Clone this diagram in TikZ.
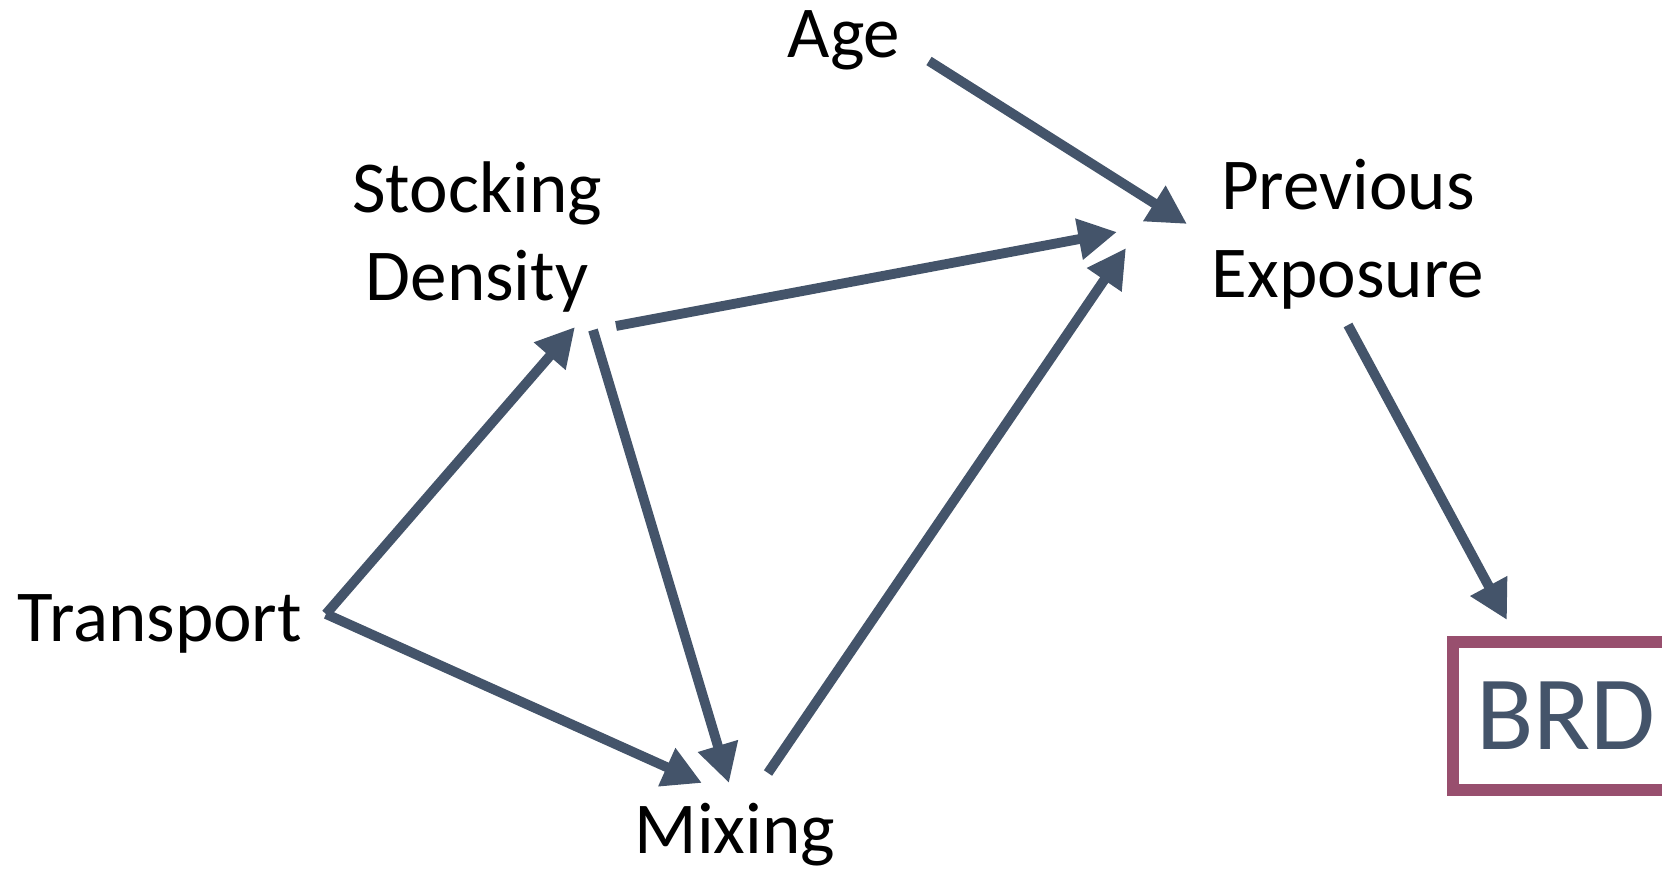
\documentclass[tikz,border=0pt]{standalone}
\usepackage{fontspec}
\setmainfont{Carlito}
\usetikzlibrary{arrows.meta}
\definecolor{arrowgray}{HTML}{44546A}
\definecolor{brdrose}{HTML}{984F6E}

\begin{document}
\begin{tikzpicture}[line width=2.8pt, >={Triangle[length=11pt, width=11.2pt]},
  lbl/.style={font=\fontsize{20.8}{25}\selectfont, align=center, anchor=base, inner sep=0pt},
  arr/.style={draw=arrowgray, ->}]
  \useasboundingbox (0,0) rectangle (16.62,8.68);
  % factors
  \node[lbl] (age) at (8.44,8.10) {Age};
  \node[lbl] (stock) at (4.77,5.68) {Stocking\\Density};
  \node[lbl] (prev) at (13.48,5.71) {Previous\\Exposure};
  \node[lbl] (trans) at (1.60,2.27) {Transport};
  \node[lbl] (mix) at (7.35,0.15) {Mixing};
  % outcome
  \node[draw=brdrose, line width=3.4pt, text=arrowgray, inner sep=0pt,
    minimum width=2.26cm, minimum height=1.48cm,
    font=\fontsize{30}{36}\selectfont] (brd) at (15.66,1.52) {BRD};
  % arrows
  \draw[arr] ([shift={(0.85,-0.03)}]age.base) -- ([shift={(-1.61,0.73)}]prev.base);
  \draw[arr] ([shift={(1.39,-0.26)}]stock.base) -- ([shift={(-2.31,0.65)}]prev.base);
  \draw[arr] ([shift={(1.16,-0.30)}]stock.base) -- ([shift={(-0.06,0.70)}]mix.base);
  \draw[arr] ([shift={(1.66,0.27)}]trans.base) -- ([shift={(0.98,-0.27)}]stock.base);
  \draw[arr] ([shift={(1.66,0.27)}]trans.base) -- ([shift={(-0.33,0.70)}]mix.base);
  \draw[arr] ([shift={(0.33,0.80)}]mix.base) -- ([shift={(-2.22,0.49)}]prev.base);
  \draw[arr] ([shift={(0,-0.28)}]prev.base) -- ([shift={(-0.59,0.96)}]brd.center);
\end{tikzpicture}
\end{document}
